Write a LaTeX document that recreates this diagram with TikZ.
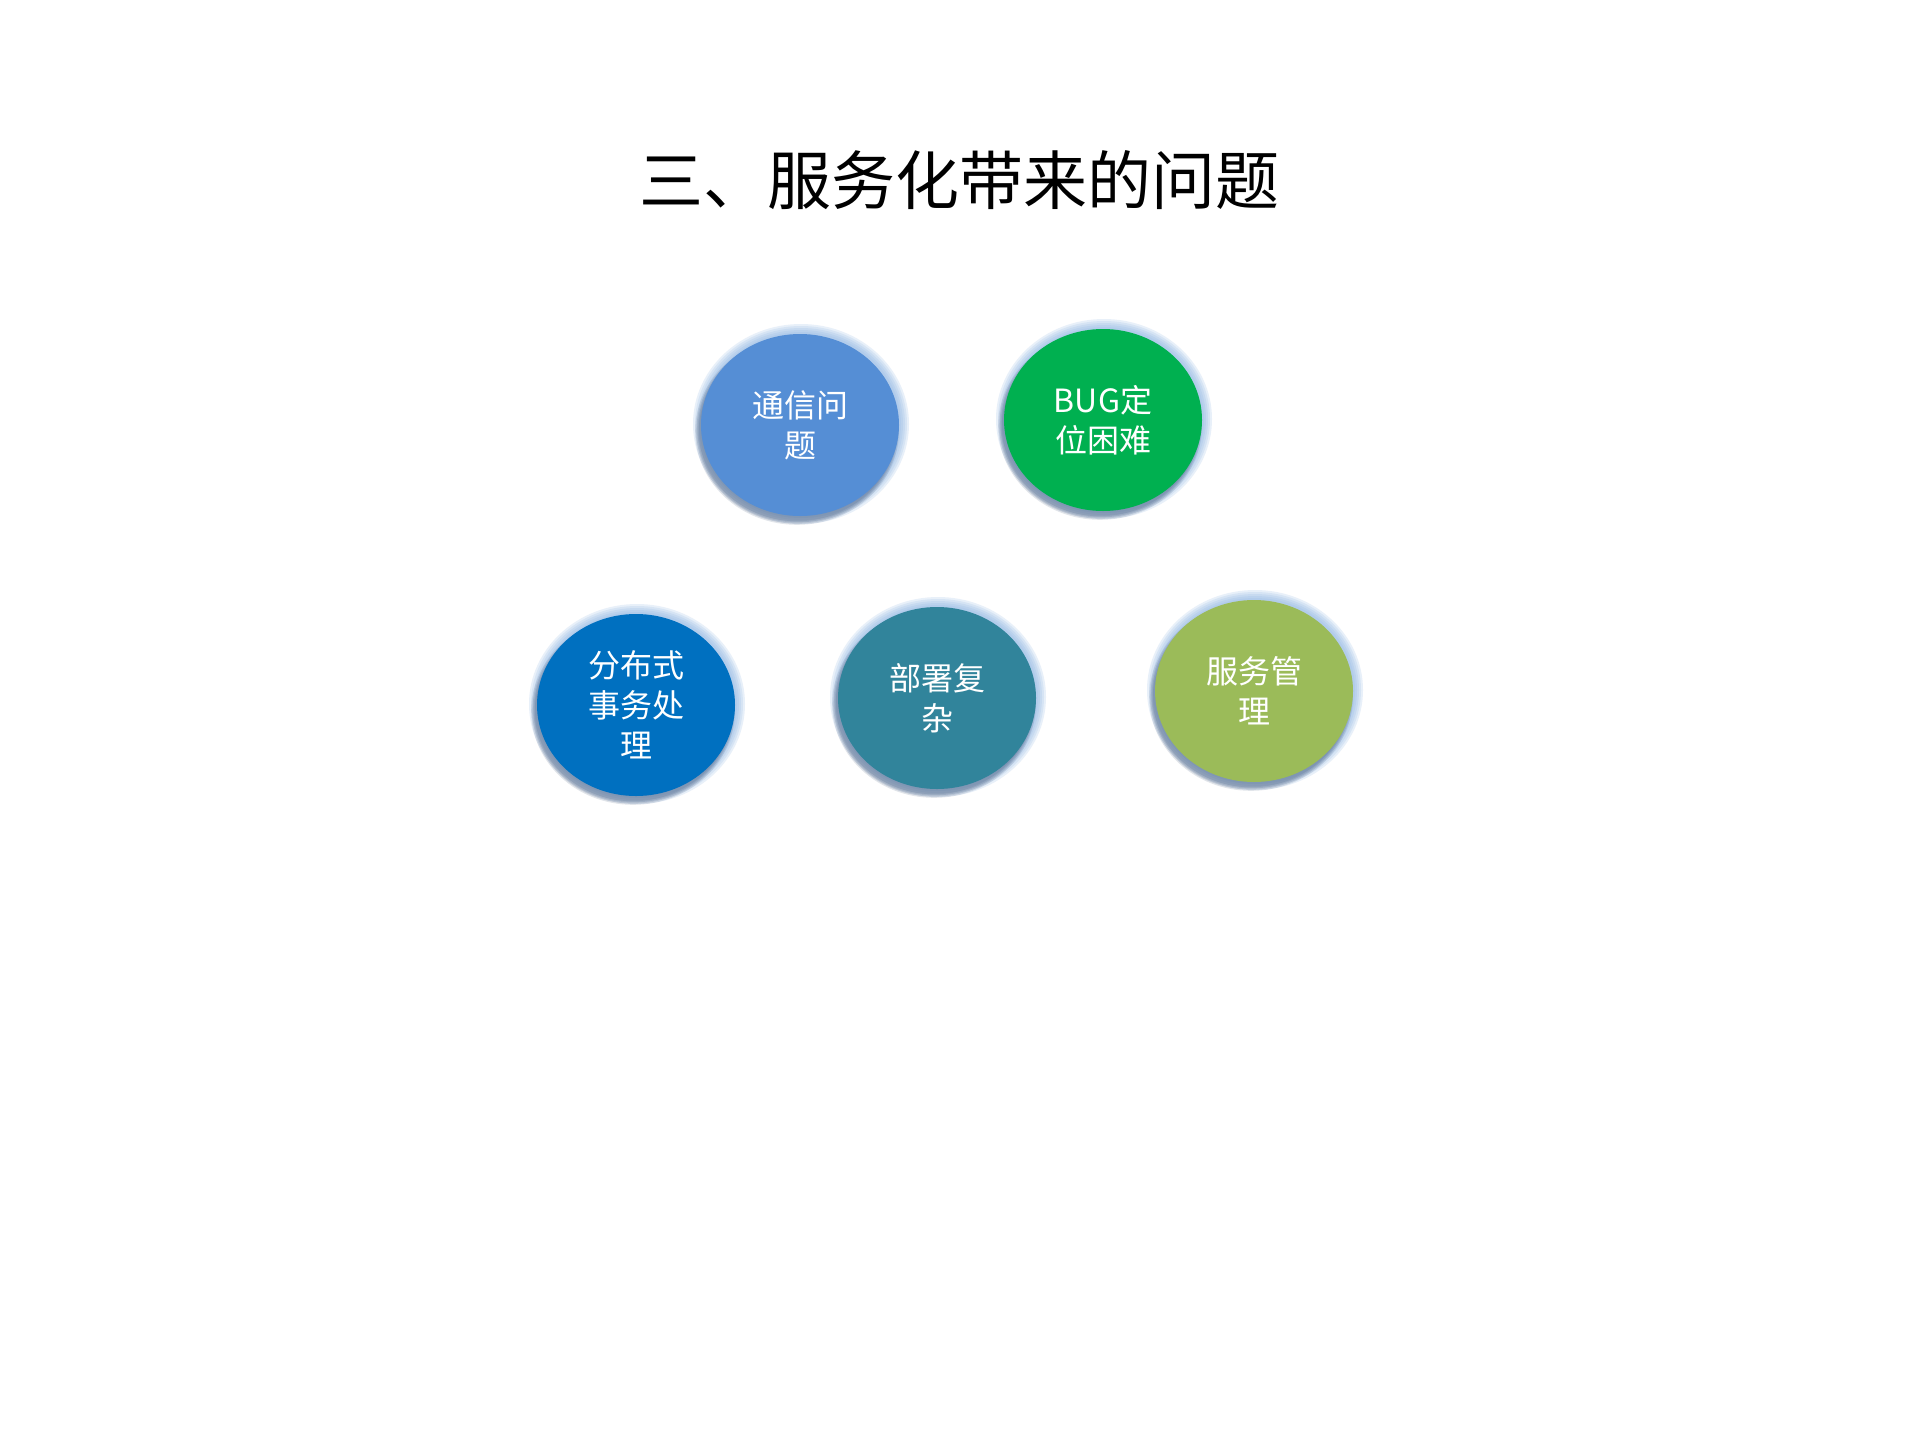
\documentclass[tikz,border=0pt]{standalone}
\usepackage{fontspec}
\setmainfont{Noto Sans CJK SC}
\usetikzlibrary{shapes.geometric}
\definecolor{glowc}{HTML}{8EB4E3}
\definecolor{shadowc}{HTML}{4A5F80}
\definecolor{cA}{HTML}{558ED5}
\definecolor{cB}{HTML}{00B050}
\definecolor{cC}{HTML}{0070C0}
\definecolor{cD}{HTML}{31849B}
\definecolor{cE}{HTML}{9BBB59}
\tikzset{
  bubble/.style={ellipse, inner sep=0pt, minimum width=148.5pt, minimum height=136.5pt,
    text=white, align=center, font=\fontsize{24}{30}\selectfont},
  titletext/.style={font=\fontsize{48}{56}\selectfont, text=black}
}
\newcommand{\mybubble}[5]{%
  \foreach \k in {9,7,5,3,1} {\fill[glowc, opacity=0.2] (#2+1,#3-1) ellipse [x radius={99+\k}, y radius={91+\k}];}
  \foreach \k in {8,6,4,2} {\fill[shadowc, opacity=0.16] (#2-3,#3+6) ellipse [x radius={97+\k*0.6}, y radius={89+\k*0.6}];}
  \node[bubble, fill=#4] (#1) at (#2,#3) {#5};
}
\begin{document}
\begin{tikzpicture}[x=0.75pt, y=-0.75pt]
\useasboundingbox[fill=white] (0,0) rectangle (1919,1439);
\node[titletext] (title) at (959,180) {三、服务化带来的问题};
\mybubble{b1}{800}{425}{cA}{通信问\\题}
\mybubble{b2}{1103}{420}{cB}{BUG定\\位困难}
\mybubble{b3}{636}{705}{cC}{分布式\\事务处\\理}
\mybubble{b4}{937}{698}{cD}{部署复\\杂}
\mybubble{b5}{1254}{691}{cE}{服务管\\理}
\end{tikzpicture}
\end{document}
